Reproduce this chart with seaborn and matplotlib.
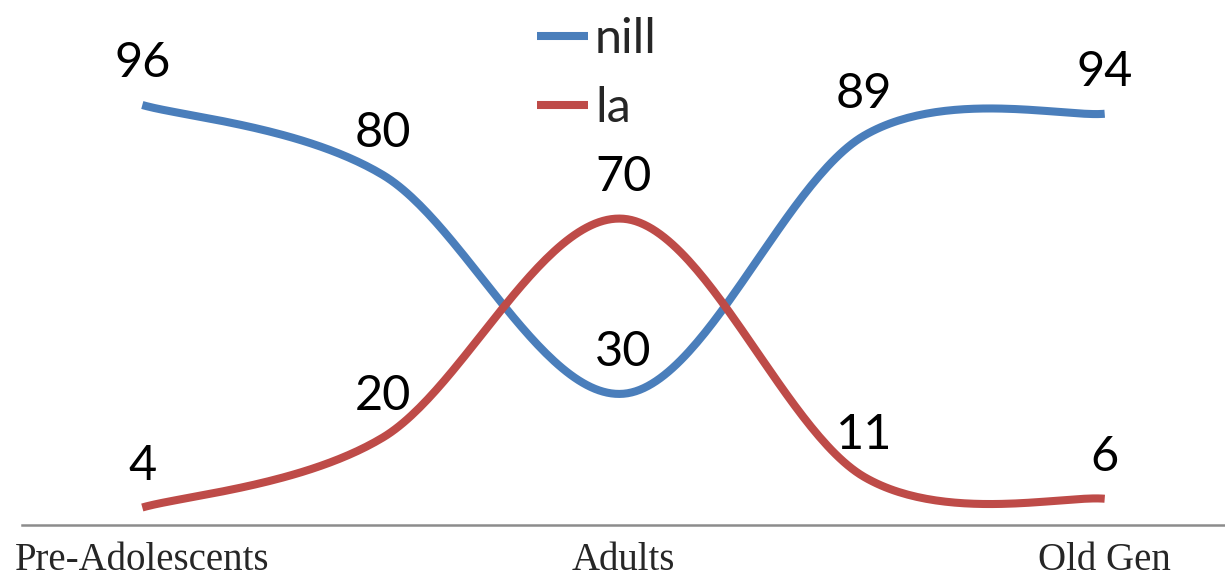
import numpy as np
import pandas as pd
import matplotlib
matplotlib.use("Agg")
import matplotlib.pyplot as plt
from matplotlib.lines import Line2D
import seaborn as sns

# data
groups = ["Pre-Adolescents", "", "Adults", "", "Old Gen"]
nill = [96, 80, 30, 89, 94]
la = [4, 20, 70, 11, 6]
series_names = ["nill", "la"]
colors = {"nill": "#4a7ebb", "la": "#be4b48"}


def smooth(y, n=60):
    # Excel-style smoothed line: cubic bezier with catmull-rom control points
    y = np.asarray(y, float)
    x = np.arange(len(y), dtype=float)
    pts = np.column_stack([x, y])
    padded = np.vstack([pts[0], pts, pts[-1]])
    out = []
    t = np.linspace(0, 1, n)[:, None]
    for i in range(len(pts) - 1):
        p0 = pts[i]
        p3 = pts[i + 1]
        p1 = p0 + (padded[i + 2] - padded[i]) / 6
        p2 = p3 - (padded[i + 3] - padded[i + 1]) / 6
        seg = ((1 - t) ** 3) * p0 + 3 * ((1 - t) ** 2) * t * p1 + 3 * (1 - t) * t ** 2 * p2 + t ** 3 * p3
        out.append(seg if i == 0 else seg[1:])
    return np.vstack(out)


frames = []
for name, vals in zip(series_names, [nill, la]):
    c = smooth(vals)
    frames.append(pd.DataFrame({"x": c[:, 0], "y": c[:, 1], "series": name}))
df = pd.concat(frames, ignore_index=True)

sns.set_theme(style="white")
plt.rcParams["font.family"] = ["Lato", "DejaVu Sans"]

fig = plt.figure(figsize=(12.25, 5.87), dpi=100)
ax = fig.add_axes([22 / 1225, 62 / 587, 1 - 22 / 1225, 525 / 587])

sns.lineplot(data=df, x="x", y="y", hue="series", palette=colors, sort=False,
             estimator=None, units="series", linewidth=5.8, legend=False, ax=ax)
for line in ax.lines:
    line.set_solid_capstyle("butt")

for name, vals in zip(series_names, [nill, la]):
    for i, v in enumerate(vals):
        ax.annotate(str(v), (i, v), xytext=(0, 30), textcoords="offset points",
                    ha="center", va="center", fontsize=35, color="black")

ax.set_xlim(-0.5, 4.5)
ax.set_ylim(0, 120)
ax.set_xticks([0, 2, 4])
ax.set_xticklabels([groups[0], groups[2], groups[4]], fontsize=28,
                   family="Liberation Serif")
ax.tick_params(axis="x", length=0, pad=12)
ax.set_yticks([])
ax.set_xlabel("")
ax.set_ylabel("")
for s in ["top", "right", "left"]:
    ax.spines[s].set_visible(False)
ax.spines["bottom"].set_color("#8c8c8c")
ax.spines["bottom"].set_linewidth(1.8)

handles = [Line2D([], [], color=colors[n], lw=5.8, solid_capstyle="butt") for n in series_names]
fig.legend(handles, series_names, loc="upper left", bbox_to_anchor=(493 / 1225, 1.045),
           frameon=False, fontsize=35, handlelength=1.05, handletextpad=0.15,
           labelspacing=0.5)

fig.savefig("out.png", dpi=100)
